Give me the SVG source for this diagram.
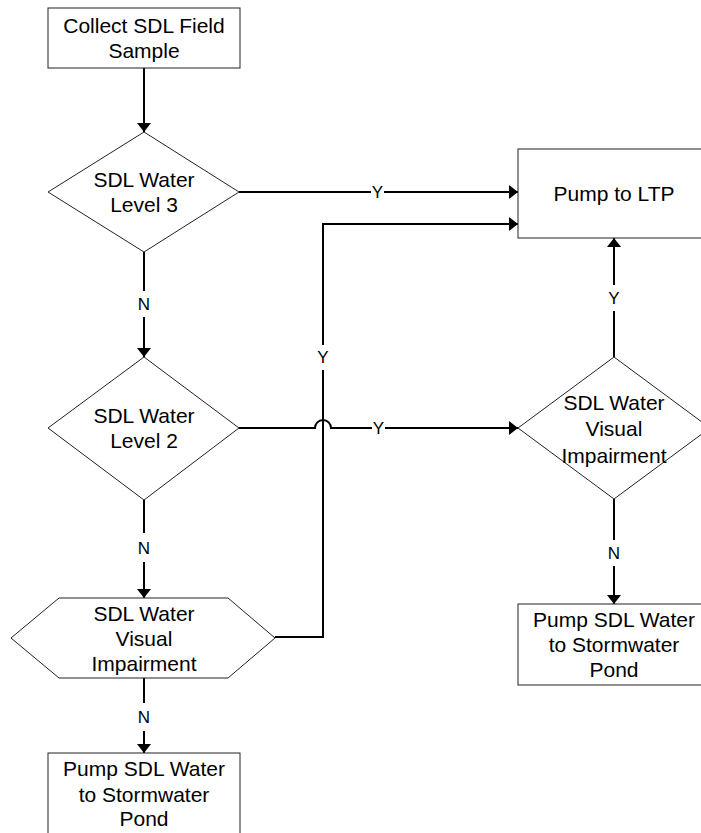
<svg xmlns="http://www.w3.org/2000/svg" width="701" height="833" viewBox="0 0 701 833">
<style>
.node{fill:#fff;stroke:#222;stroke-width:1}
.t{font-family:"Liberation Sans",Arial,sans-serif;font-size:21px;fill:#000;text-anchor:middle}
.c{fill:none;stroke:#000;stroke-width:2}
.lbl{font-family:"Liberation Sans",Arial,sans-serif;font-size:17px;fill:#000;text-anchor:middle}
.bg{fill:#fff}
</style>
<defs>
<marker id="ah" markerUnits="userSpaceOnUse" markerWidth="9" markerHeight="14" refX="9" refY="7" orient="auto">
<path d="M0,0 L9,7 L0,14 z" fill="#000"/>
</marker>
</defs>
<rect width="701" height="833" fill="#fff"/>
<g id="connectors">
<path class="c" d="M144,68 V132" marker-end="url(#ah)"/>
<path class="c" d="M239,192 H518" marker-end="url(#ah)"/>
<path class="c" d="M144,252 V357" marker-end="url(#ah)"/>
<path class="c" d="M239,428 H315 A8,8 0 0 1 331,428 H518" marker-end="url(#ah)"/>
<path class="c" d="M614,357 V238" marker-end="url(#ah)"/>
<path class="c" d="M144,500 V598" marker-end="url(#ah)"/>
<path class="c" d="M275,637 H323 V224 H518" marker-end="url(#ah)"/>
<path class="c" d="M614,499 V604" marker-end="url(#ah)"/>
<path class="c" d="M144,678 V753" marker-end="url(#ah)"/>
<g id="labels">
<rect class="bg" x="371" y="180" width="13" height="24"/><text class="lbl" x="377.5" y="198">Y</text>
<rect class="bg" x="138" y="291" width="13" height="26"/><text class="lbl" x="144" y="310">N</text>
<rect class="bg" x="317" y="345" width="13" height="25"/><text class="lbl" x="323" y="363">Y</text>
<rect class="bg" x="372" y="416" width="13" height="24"/><text class="lbl" x="378.5" y="434">Y</text>
<rect class="bg" x="608" y="285" width="13" height="26"/><text class="lbl" x="614" y="303.5">Y</text>
<rect class="bg" x="138" y="533" width="13" height="29"/><text class="lbl" x="144" y="554">N</text>
<rect class="bg" x="608" y="540" width="13" height="26"/><text class="lbl" x="614" y="559">N</text>
<rect class="bg" x="138" y="703" width="13" height="28"/><text class="lbl" x="144" y="723">N</text>
</g>
</g>
<g id="collect">
<rect class="node" x="48" y="8" width="192" height="60"/>
<text class="t" x="144" y="32.5">Collect SDL Field</text>
<text class="t" x="144" y="57.5">Sample</text>
</g>
<g id="level3">
<polygon class="node" points="144,132 239,192 144,252 48,192"/>
<text class="t" x="144" y="187">SDL Water</text>
<text class="t" x="144" y="212">Level 3</text>
</g>
<g id="ltp">
<rect class="node" x="518" y="149" width="192" height="89"/>
<text class="t" x="614" y="200.5">Pump to LTP</text>
</g>
<g id="level2">
<polygon class="node" points="144,357 239,428 144,500 48,428"/>
<text class="t" x="144" y="422.5">SDL Water</text>
<text class="t" x="144" y="447.5">Level 2</text>
</g>
<g id="visual-right">
<polygon class="node" points="614,357 710,428 614,499 518,428"/>
<text class="t" x="614" y="409.5">SDL Water</text>
<text class="t" x="614" y="436">Visual</text>
<text class="t" x="614" y="462.5">Impairment</text>
</g>
<g id="visual-left">
<polygon class="node" points="11,638 59,598 228,598 275,638 228,678 59,678"/>
<text class="t" x="144" y="620.5">SDL Water</text>
<text class="t" x="144" y="645.5">Visual</text>
<text class="t" x="144" y="670.5">Impairment</text>
</g>
<g id="pond-right">
<rect class="node" x="518" y="604" width="192" height="81"/>
<text class="t" x="614" y="626.5">Pump SDL Water</text>
<text class="t" x="614" y="651.5">to Stormwater</text>
<text class="t" x="614" y="676.5">Pond</text>
</g>
<g id="pond-left">
<rect class="node" x="48" y="753" width="192" height="90"/>
<text class="t" x="144" y="776">Pump SDL Water</text>
<text class="t" x="144" y="801.5">to Stormwater</text>
<text class="t" x="144" y="826">Pond</text>
</g>
</svg>
